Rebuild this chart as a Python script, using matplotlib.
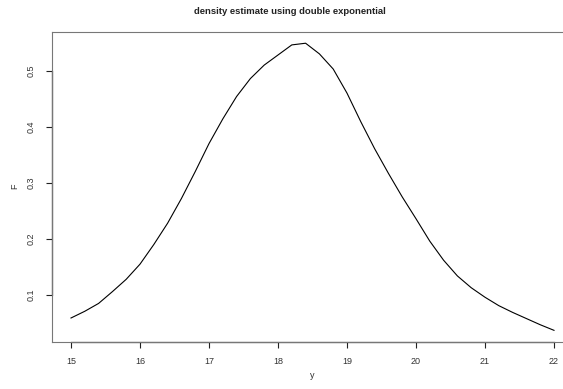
import numpy as np
import matplotlib.pyplot as plt

plt.rcParams['font.family'] = ['Liberation Sans', 'DejaVu Sans']

# density estimate, grid step 0.2
y_grid = [15.0, 15.2, 15.4, 15.6, 15.8, 16.0, 16.2, 16.4, 16.6, 16.8,
          17.0, 17.2, 17.4, 17.6, 17.8, 18.0, 18.2, 18.4, 18.6, 18.8,
          19.0, 19.2, 19.4, 19.6, 19.8, 20.0, 20.2, 20.4, 20.6, 20.8,
          21.0, 21.2, 21.4, 21.6, 21.8, 22.0]
F = [0.059, 0.071, 0.085, 0.106, 0.128, 0.155, 0.190, 0.228, 0.272, 0.320,
     0.370, 0.414, 0.454, 0.486, 0.510, 0.528, 0.546, 0.549, 0.530, 0.503,
     0.460, 0.409, 0.361, 0.317, 0.275, 0.236, 0.196, 0.162, 0.134, 0.113,
     0.096, 0.081, 0.069, 0.058, 0.047, 0.037]
x_ticks = [15, 16, 17, 18, 19, 20, 21, 22]
y_ticks = [0.1, 0.2, 0.3, 0.4, 0.5]

W, H = 563, 389
fig = plt.figure(figsize=(W / 100, H / 100), dpi=100)
# plot box runs a bit past the right edge of the image, like the reference
ax = fig.add_axes([52 / W, (H - 342) / H, 514 / W, 310 / H])

ax.plot(y_grid, F, color='black', lw=0.8)

ax.set_xlim(15 - 19 / 69, 22 + 12 / 69)
ax.set_ylim(0.1 - 47 / 560.8, 0.5 + 38.7 / 560.8)

for s in ax.spines.values():
    s.set_color('#777777')
    s.set_linewidth(0.8)
ax.spines['right'].set_visible(False)

# R draws the axis line only between first and last tick, darker
y0, x0 = ax.get_ylim()[0], ax.get_xlim()[0]
ax.plot([x_ticks[0], x_ticks[-1]], [y0, y0], color='#222222', lw=0.9, clip_on=False)
ax.plot([x0, x0], [y_ticks[0], y_ticks[-1]], color='#222222', lw=0.9, clip_on=False)

ax.set_xticks(x_ticks)
ax.set_xticklabels([str(t) for t in x_ticks])
ax.set_yticks(y_ticks)
ax.set_yticklabels([f'{t:g}' for t in y_ticks], rotation=90, va='center')
ax.tick_params(direction='out', length=4, width=0.8, color='#222222',
               labelsize=6.5, labelcolor='#333333')
ax.tick_params(axis='x', pad=7)
ax.tick_params(axis='y', pad=8)

fig.text(312 / W, 1 - 376 / H, 'y', ha='center', va='center', fontsize=6.5, color='#333333')
fig.text(15 / W, 1 - 186 / H, 'F', ha='center', va='center', fontsize=6.5,
         color='#333333', rotation=90)
fig.text(290 / W, 1 - 11 / H, 'density estimate using double exponential',
         ha='center', va='center', fontsize=6.8, fontweight='bold', color='#222222')

fig.savefig('out.png', dpi=100)
